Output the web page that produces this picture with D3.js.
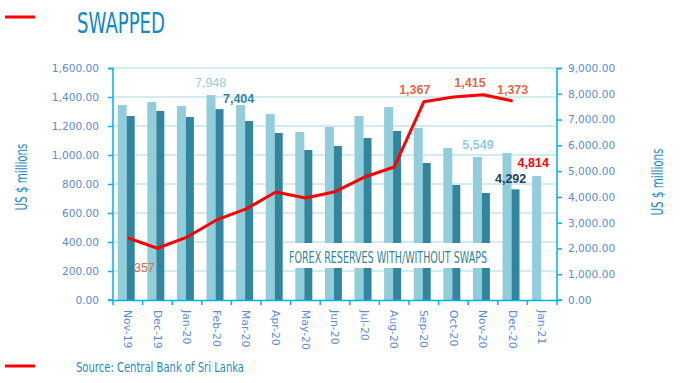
<!DOCTYPE html>
<html>
<head>
<meta charset="utf-8">
<script src="https://cdn.jsdelivr.net/npm/d3@7"></script>
<style>
  body { margin: 0; background: #fff; }
  text { font-family: "DejaVu Sans", sans-serif; }
  .tick text { font-family: "DejaVu Sans", sans-serif; }
</style>
</head>
<body>
<script>
// month labels
var months = ["Nov-19", "Dec-19", "Jan-20", "Feb-20", "Mar-20", "Apr-20", "May-20", "Jun-20",
              "Jul-20", "Aug-20", "Sep-20", "Oct-20", "Nov-20", "Dec-20", "Jan-21"];
// reserves with swaps (right axis)
var withSwaps = [7565, 7681, 7526, 7948, 7565, 7216, 6517, 6711, 7138, 7487, 6672, 5897, 5549, 5702, 4814];
// reserves without swaps (right axis)
var withoutSwaps = [7138, 7332, 7099, 7404, 6944, 6478, 5819, 5974, 6284, 6556, 5315, 4461, 4151, 4292, null];
// swapped amount (left axis)
var swapped = [428, 357, 434, 552, 628, 745, 703, 747, 848, 917, 1367, 1400, 1415, 1373, null];
var leftTicks = [0, 200, 400, 600, 800, 1000, 1200, 1400, 1600];
var rightTicks = [0, 1000, 2000, 3000, 4000, 5000, 6000, 7000, 8000, 9000];

var W = 680, H = 383;
var margin = {top: 68, right: 123, bottom: 83, left: 113};
var width = W - margin.left - margin.right,
    height = H - margin.top - margin.bottom;

var svg = d3.select("body").append("svg")
  .attr("width", W)
  .attr("height", H);

var g = svg.append("g")
  .attr("transform", "translate(" + margin.left + "," + margin.top + ")");

var x = d3.scaleBand().domain(months).range([0, width]);
var yL = d3.scaleLinear().domain([0, 1600]).range([height, 0]);
var yR = d3.scaleLinear().domain([0, 9000]).range([height, 0]);

var axisColor = "#00B0F0", tickColor = "#5B8BD9";

// gridlines
g.selectAll(".grid").data(leftTicks.slice(1)).enter().append("line")
  .attr("x1", 0).attr("x2", width)
  .attr("y1", function(d) { return yL(d); }).attr("y2", function(d) { return yL(d); })
  .attr("stroke", "#A8D6E6").attr("stroke-width", 1);

// bars
var bw = 9, off = 4.7;
g.selectAll(".b1").data(withSwaps).enter().append("rect")
  .attr("x", function(d, i) { return x(months[i]) + off; })
  .attr("y", function(d) { return yR(d); })
  .attr("width", bw)
  .attr("height", function(d) { return height - yR(d); })
  .attr("fill", "#92CDDC");

g.selectAll(".b2").data(withoutSwaps.filter(function(d) { return d != null; })).enter().append("rect")
  .attr("x", function(d, i) { return x(months[i]) + off + bw; })
  .attr("y", function(d) { return yR(d); })
  .attr("width", 8)
  .attr("height", function(d) { return height - yR(d); })
  .attr("fill", "#31859C");

// chart label box
g.append("rect").attr("x", 287 - margin.left).attr("y", 243 - margin.top)
  .attr("width", 203).attr("height", 25).attr("fill", "#fff");
g.append("text").attr("x", 388 - margin.left).attr("y", 263 - margin.top)
  .attr("text-anchor", "middle").attr("fill", "#31849B")
  .style("font-size", "15px").attr("textLength", 198).attr("lengthAdjust", "spacingAndGlyphs")
  .text("FOREX RESERVES WITH/WITHOUT SWAPS");

// swap line
var line = d3.line()
  .defined(function(d) { return d != null; })
  .x(function(d, i) { return x(months[i]) + x.bandwidth() / 2; })
  .y(function(d) { return yL(d); });
g.append("path").datum(swapped)
  .attr("d", line)
  .attr("fill", "none").attr("stroke", "#FF0000").attr("stroke-width", 3)
  .attr("stroke-linejoin", "round");

// axes
var axL = g.append("g").call(d3.axisLeft(yL).tickValues(leftTicks).tickSize(5).tickPadding(9)
  .tickFormat(d3.format(",.2f")));
var axR = g.append("g").attr("transform", "translate(" + width + ",0)")
  .call(d3.axisRight(yR).tickValues(rightTicks).tickSize(5).tickPadding(6)
  .tickFormat(d3.format(",.2f")));
var axB = g.append("g").attr("transform", "translate(0," + height + ")")
  .call(d3.axisBottom(x).tickSize(0));
[axL, axR, axB].forEach(function(a) {
  a.select(".domain").attr("stroke", axisColor).attr("stroke-width", 1.5);
  a.selectAll(".tick line").attr("stroke", axisColor).attr("stroke-width", 1.5);
  a.selectAll(".tick text").attr("fill", tickColor).style("font-size", "10.6px");
});
axL.select(".domain").attr("d", "M-5,0.5H0V" + height + "H-5");
axR.select(".domain").attr("d", "M5,0.5H0V" + height + "H5");
// band boundary ticks on x axis
axB.selectAll(".bt").data(months.concat([null])).enter().append("line")
  .attr("x1", function(d, i) { return i * x.step(); })
  .attr("x2", function(d, i) { return i * x.step(); })
  .attr("y1", 0).attr("y2", 5)
  .attr("stroke", axisColor).attr("stroke-width", 1.5);
axB.selectAll(".tick text")
  .attr("transform", "rotate(90)")
  .attr("x", 10).attr("y", 0).attr("dy", "0.35em")
  .attr("text-anchor", "start")
  .style("font-size", "10.8px");

// data labels
function lab(xp, yp, txt, col, wt) {
  g.append("text").attr("x", xp).attr("y", yp).attr("text-anchor", "middle")
    .attr("fill", col).style("font-size", "12.5px").style("font-weight", wt || "normal")
    .style("font-family", "'Liberation Sans', Arial, sans-serif")
    .text(txt);
}
var cx = function(i) { return x(months[i]) + x.bandwidth() / 2; };
lab(cx(3) - 6, yR(withSwaps[3]) - 8, d3.format(",")(withSwaps[3]), "#92CDDC");
lab(cx(3) + 22, yR(withoutSwaps[3]) - 6, d3.format(",")(withoutSwaps[3]), "#31859C", "bold");
lab(cx(1) - 13, yL(swapped[1]) + 24, d3.format(",")(swapped[1]), "#E0694A");
lab(cx(10) - 9, yL(swapped[10]) - 8, d3.format(",")(swapped[10]), "#E0694A", "bold");
lab(cx(12) - 13, yL(swapped[12]) - 8, d3.format(",")(swapped[12]), "#E0694A", "bold");
lab(cx(13), yL(swapped[13]) - 7, d3.format(",")(swapped[13]), "#E0694A", "bold");
lab(cx(12) - 5, yR(withSwaps[12]) - 8, d3.format(",")(withSwaps[12]), "#92CDDC", "bold");
lab(cx(13) - 2, yR(withoutSwaps[13]) - 6, d3.format(",")(withoutSwaps[13]), "#254061", "bold");
lab(cx(14) - 9, yR(withSwaps[14]) - 9, d3.format(",")(withSwaps[14]), "#FF0000", "bold");

// axis titles
svg.append("text").attr("transform", "translate(27,177) rotate(-90)")
  .attr("text-anchor", "middle").attr("fill", "#1E8BC3").style("font-size", "15px")
  .attr("textLength", 67).attr("lengthAdjust", "spacingAndGlyphs")
  .text("US $ millions");
svg.append("text").attr("transform", "translate(663,182) rotate(-90)")
  .attr("text-anchor", "middle").attr("fill", "#1E8BC3").style("font-size", "15px")
  .attr("textLength", 67).attr("lengthAdjust", "spacingAndGlyphs")
  .text("US $ millions");

// title and legend
svg.append("line").attr("x1", 5).attr("x2", 35).attr("y1", 17).attr("y2", 17)
  .attr("stroke", "#FF0000").attr("stroke-width", 3);
svg.append("text").attr("x", 77).attr("y", 33).attr("fill", "#0E88C8")
  .style("font-size", "29px").attr("textLength", 88).attr("lengthAdjust", "spacingAndGlyphs")
  .text("SWAPPED");
svg.append("line").attr("x1", 5).attr("x2", 35).attr("y1", 366).attr("y2", 366)
  .attr("stroke", "#FF0000").attr("stroke-width", 3);
svg.append("text").attr("x", 76).attr("y", 372).attr("fill", "#1E8BC3")
  .style("font-size", "14px").attr("textLength", 168).attr("lengthAdjust", "spacingAndGlyphs")
  .text("Source: Central Bank of Sri Lanka");
</script>
</body>
</html>
